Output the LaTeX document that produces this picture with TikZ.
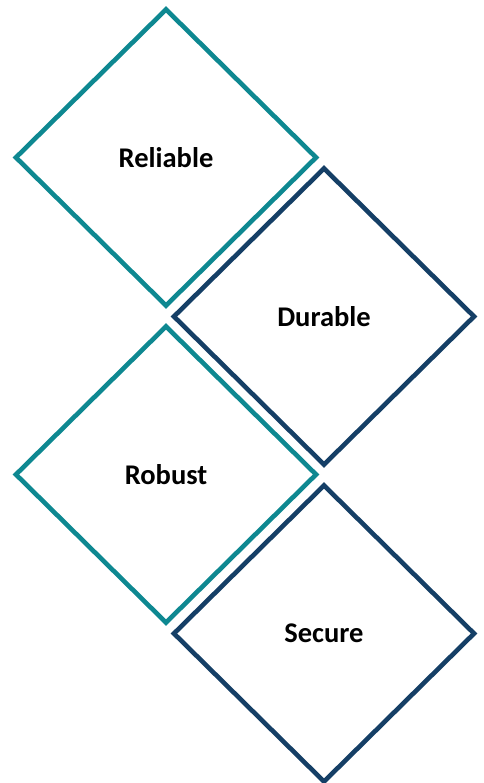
\documentclass[tikz,border=0pt]{standalone}
\usepackage{fontspec}
\setmainfont{Carlito}
\usepackage{xcolor}
\usepackage{tikz}
\usetikzlibrary{shapes.geometric}

\definecolor{tealline}{RGB}{14,136,145}
\definecolor{navyline}{RGB}{21,63,102}

\begin{document}
\begin{tikzpicture}[x=1pt,y=-1pt]
\tikzset{
  facet/.style={diamond,draw,line width=4.6pt,minimum width=302pt,minimum height=298pt,
    inner sep=0pt,font=\fontsize{28.5}{34}\selectfont\bfseries},
  lightfacet/.style={facet,tealline},
  darkfacet/.style={facet,navyline}
}
\useasboundingbox (0,0) rectangle (483,783);
\begin{scope}

    \node[lightfacet,text=black] (reliable) at (166,157.5) {Reliable};
    \node[darkfacet,text=black]  (durable)  at (324,316.5) {Durable};
    \node[lightfacet,text=black] (robust)   at (166,474.5) {Robust};
    \node[darkfacet,text=black]  (secure)   at (324,633.5) {Secure};

\end{scope}
\end{tikzpicture}
\end{document}
